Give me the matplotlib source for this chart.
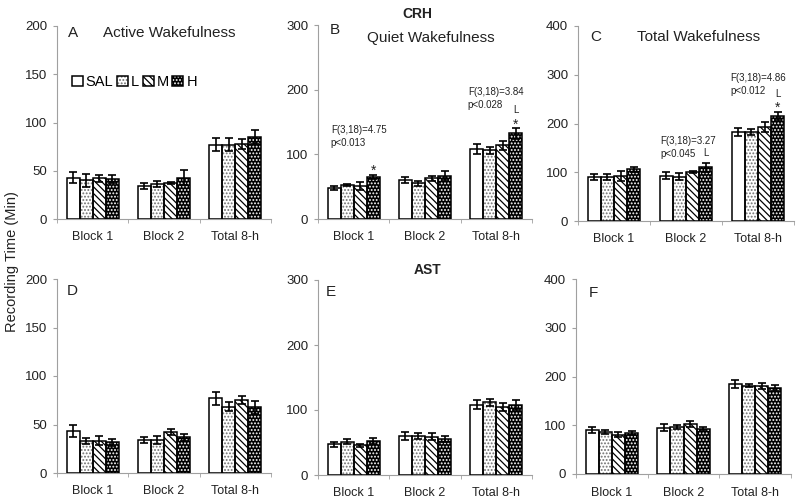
import numpy as np
import matplotlib
matplotlib.use('Agg')
import matplotlib.pyplot as plt
from matplotlib.patches import Patch
from matplotlib.legend_handler import HandlerTuple

plt.rcParams['font.family'] = ['Liberation Sans', 'DejaVu Sans']
plt.rcParams['hatch.linewidth'] = 0.9

FIG_W, FIG_H = 800, 504

groups = ['SAL', 'L', 'M', 'H']
blocks = ['Block 1', 'Block 2', 'Total 8-h']

# mean / SEM, rows = SAL, L, M, H ; cols = Block 1, Block 2, Total 8-h
crh_active_mean = [[43, 34, 77], [40, 36.5, 77], [42, 37.5, 78], [41.5, 43, 85]]
crh_active_err = [[6, 3, 6.5], [6.5, 3, 6.5], [4, 1, 5], [4.5, 8, 7]]

crh_quiet_mean = [[48, 60, 108], [52.5, 55, 106], [51, 63, 114], [65, 67, 132.5]]
crh_quiet_err = [[3, 5, 7.5], [1.5, 4.5, 5], [6.5, 3.5, 7], [3.5, 6.5, 8.5]]

crh_total_mean = [[90, 93, 183], [90, 91, 182.5], [92, 100.5, 193], [106, 110, 216]]
crh_total_err = [[6, 7, 8], [6.5, 6.5, 6.5], [10, 2, 10], [5, 9.5, 8]]

ast_active_mean = [[43.5, 33.7, 77], [33, 34, 68.4], [33.5, 42, 75], [31.5, 36.8, 67.7]]
ast_active_err = [[6, 3, 6.7], [3.5, 3.7, 4.5], [4.5, 3, 4], [3.7, 3.3, 7]]

ast_quiet_mean = [[47, 60, 108], [51, 59.5, 112], [45.6, 59, 104.6], [52, 55.4, 108]]
ast_quiet_err = [[3.5, 6, 7], [4, 4.5, 5.5], [2, 5, 6.5], [4.5, 4.5, 8]]

ast_total_mean = [[91, 95, 184.5], [86, 96, 181], [81, 102, 180.5], [85, 93, 176.4]]
ast_total_err = [[6, 7, 7.5], [4, 4.5, 3.5], [4.5, 6.5, 6.5], [4, 3, 5.5]]

# (facecolor, hatch colour, hatch)
styles = [('white', 'white', ''),
          ('white', '#707070', '.....'),
          ('white', 'black', '\\\\\\\\\\'),
          ('black', 'white', '.....')]

BAR_W = 0.183
GRAY = '#a0a0a0'
TXT = '#222222'


def px_rect(x0, x1, ytop, ybot):
    return [x0 / FIG_W, 1 - ybot / FIG_H, (x1 - x0) / FIG_W, (ybot - ytop) / FIG_H]


def draw_panel(fig, rect, means, errs, ymax, ystep):
    ax = fig.add_axes(rect)
    x = np.arange(len(blocks))
    for i in range(len(groups)):
        xi = x + (i - 1.5) * BAR_W
        fc, hc, hatch = styles[i]
        # 填充+花纹, 然后再画黑色边框
        ax.bar(xi, means[i], BAR_W, color=fc, edgecolor=hc, hatch=hatch,
               linewidth=0, zorder=2)
        ax.bar(xi, means[i], BAR_W, facecolor='none', edgecolor='black',
               linewidth=1.1, zorder=3)
        ax.errorbar(xi, means[i], yerr=errs[i], fmt='none', ecolor='black',
                    elinewidth=1.2, capsize=3, capthick=1.2, zorder=4)

    ax.set_xlim(-0.5, 2.5)
    ax.set_ylim(0, ymax)
    ax.set_yticks(np.arange(0, ymax + 1, ystep))
    ax.set_xticks(x)
    ax.set_xticklabels(blocks)
    ax.set_xticks([-0.5, 0.5, 1.5, 2.5], minor=True)
    ax.tick_params(axis='x', which='major', length=0, pad=9, labelsize=9, colors=TXT)
    ax.tick_params(axis='x', which='minor', length=3, color=GRAY)
    ax.tick_params(axis='y', length=3, pad=4, labelsize=9.5, color=GRAY, labelcolor=TXT)
    for s in ['top', 'right']:
        ax.spines[s].set_visible(False)
    for s in ['left', 'bottom']:
        ax.spines[s].set_color(GRAY)
        ax.spines[s].set_linewidth(0.8)
    return ax


def mark(ax, means, errs, b, text, off, size):
    # 标在 H 柱的误差线上方
    xh = b + 1.5 * BAR_W
    top = means[3][b] + errs[3][b]
    ax.annotate(text, xy=(xh, top), xytext=(0, off), textcoords='offset points',
                ha='center', va='baseline', fontsize=size, color=TXT)


def stats(ax, x, y, ftxt, ptxt):
    # 两行分开画: p 行在下, F 行在上
    ax.text(x, y, ptxt, fontsize=7, va='baseline', color=TXT)
    ax.annotate(ftxt, xy=(x, y), xytext=(0, 9), textcoords='offset points',
                fontsize=7, va='baseline', color=TXT)


fig = plt.figure(figsize=(8, 5.04), dpi=100)

axA = draw_panel(fig, px_rect(57, 271, 26, 219), crh_active_mean, crh_active_err, 200, 50)
axB = draw_panel(fig, px_rect(318, 532, 25, 219), crh_quiet_mean, crh_quiet_err, 300, 100)
axC = draw_panel(fig, px_rect(578, 794, 26, 221), crh_total_mean, crh_total_err, 400, 100)
axD = draw_panel(fig, px_rect(57, 271, 279, 473), ast_active_mean, ast_active_err, 200, 50)
axE = draw_panel(fig, px_rect(318, 532, 280, 475), ast_quiet_mean, ast_quiet_err, 300, 100)
axF = draw_panel(fig, px_rect(576, 791, 279, 474), ast_total_mean, ast_total_err, 400, 100)

# legend in panel A
handles = []
for fc, hc, hatch in styles:
    handles.append((Patch(facecolor=fc, edgecolor=hc, hatch=hatch, linewidth=0),
                    Patch(facecolor='none', edgecolor='black', linewidth=1.1)))
axA.legend(handles, groups, handler_map={tuple: HandlerTuple(ndivide=1)},
           ncol=4, loc='center left', bbox_to_anchor=(0.07, 0.71),
           frameon=False, fontsize=10.5, handlelength=0.75, handleheight=0.75,
           handletextpad=0.2, columnspacing=0.25, borderpad=0, borderaxespad=0)

# statistics text
stats(axB, -0.32, 113.6, 'F(3,18)=4.75', 'p<0.013')
stats(axB, 1.60, 172, 'F(3,18)=3.84', 'p<0.028')
stats(axC, 0.64, 132, 'F(3,18)=3.27', 'p<0.045')
stats(axC, 1.61, 261.5, 'F(3,18)=4.86', 'p<0.012')

mark(axB, crh_quiet_mean, crh_quiet_err, 0, '*', 0, 10)
mark(axB, crh_quiet_mean, crh_quiet_err, 2, '*', -0.5, 10)
mark(axB, crh_quiet_mean, crh_quiet_err, 2, 'L', 11, 7)
mark(axC, crh_total_mean, crh_total_err, 1, 'L', 4.7, 7)
mark(axC, crh_total_mean, crh_total_err, 2, '*', 0, 10)
mark(axC, crh_total_mean, crh_total_err, 2, 'L', 11, 7)


# panel titles
def ftext(x, y, s, **kw):
    fig.text(x / FIG_W, 1 - y / FIG_H, s, va='center', color=TXT, **kw)


ftext(68, 33, 'A', fontsize=11)
ftext(103, 33, 'Active Wakefulness', fontsize=11)
ftext(330, 30, 'B', fontsize=11)
ftext(367, 38, 'Quiet Wakefulness', fontsize=11)
ftext(590, 37, 'C', fontsize=11)
ftext(637, 37, 'Total Wakefulness', fontsize=11)
ftext(67, 291, 'D', fontsize=11)
ftext(326, 292, 'E', fontsize=11)
ftext(589, 293, 'F', fontsize=11)
ftext(417, 14, 'CRH', fontsize=10, fontweight='bold', ha='center')
ftext(427, 270, 'AST', fontsize=10, fontweight='bold', ha='center')

fig.text(12 / FIG_W, 1 - 262 / FIG_H, 'Recording Time (Min)', rotation=90,
         ha='center', va='center', fontsize=10.5, color=TXT)

plt.savefig('out.png', dpi=100)
